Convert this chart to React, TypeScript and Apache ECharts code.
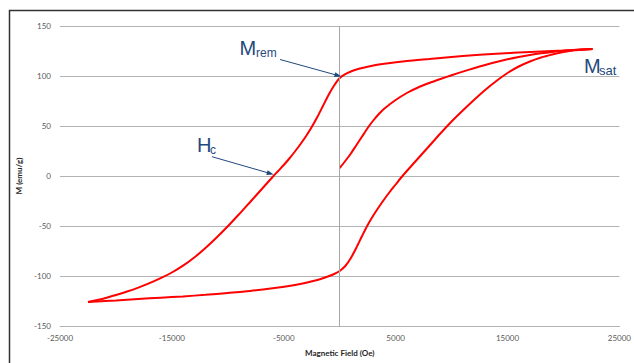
import React, { useEffect, useRef } from "react";
import * as echarts from "echarts";

// Magnetic field H (Oe), magnetisation M (emu/g)
const initialCurve: [number, number][] = [
  [0, 8], [500, 15], [1000, 22.5], [1500, 31], [2000, 39.5], [2500, 48],
  [3000, 55.5], [3500, 62], [4000, 67.5], [5000, 76], [6000, 83], [7000, 88.5],
  [8000, 93], [9000, 97], [10000, 100.8], [11000, 104.4], [12000, 107.8],
  [13000, 111], [14000, 114], [15000, 116.7], [16000, 119], [17000, 121],
  [18000, 122.7], [19000, 124.1], [20000, 125.2], [21000, 126.1], [22600, 127],
];

const descendingBranch: [number, number][] = [
  [22600, 127], [20000, 125.5], [17000, 124], [14000, 122.2], [11000, 120],
  [8000, 117], [6000, 115], [4000, 112.3], [3000, 110.5], [2000, 108],
  [1500, 106.5], [1000, 104.5], [500, 101.8], [0, 98], [-500, 90.5],
  [-1000, 81], [-1500, 70], [-2000, 59], [-2500, 49], [-3000, 40], [-3500, 32],
  [-4000, 24.5], [-4500, 17.5], [-5000, 11], [-5500, 5], [-6000, -1],
  [-7000, -13.5], [-8000, -26], [-9000, -38.3], [-10000, -50.3], [-11000, -61.5],
  [-12000, -72], [-13000, -81.5], [-14000, -89.7], [-15000, -96.5],
  [-16000, -102.2], [-17000, -107.2], [-18000, -111.6], [-19000, -115.5],
  [-20000, -119], [-21000, -122.2], [-22500, -126],
];

const ascendingBranch: [number, number][] = [
  [-22500, -126], [-21000, -125], [-20000, -124.4], [-18000, -123],
  [-16000, -121.7], [-14000, -120.4], [-12000, -118.8], [-10000, -117],
  [-8000, -115], [-6000, -112.3], [-4000, -109], [-3000, -106.8],
  [-2000, -104], [-1500, -102.3], [-1000, -100.3], [-500, -98], [0, -95],
  [500, -90], [1000, -82], [1500, -71.5], [2000, -60], [2500, -49],
  [3000, -39.5], [3500, -31], [4000, -23], [4500, -15.5], [5000, -8.5],
  [5500, -1.5], [6000, 5], [7000, 17.5], [8000, 30], [9000, 42.5],
  [10000, 54.5], [11000, 65.5], [12000, 76], [13000, 86], [14000, 95],
  [15000, 103], [16000, 109.5], [17000, 114.5], [18000, 118.5],
  [19000, 121.5], [20000, 124], [21000, 125.7], [22600, 127],
];

const xRange = { min: -25000, max: 25000, interval: 10000 };
const yRange = { min: -150, max: 150, interval: 50 };

// annotation arrows (data coordinates): [start, tip]
const mremArrow: [number, number][] = [[-5330, 116.5], [-150, 100.5]];
const hcArrow: [number, number][] = [[-11420, 19.3], [-6200, 2.5]];

export default function App() {
  const ref = useRef<HTMLDivElement>(null);

  useEffect(() => {
    if (!ref.current) return;
    const chart = echarts.init(ref.current, null, { renderer: "svg" });
    const red = "#ff0000";
    const navy = "#1f497d";
    const tickFont = { fontFamily: "Lato", fontSize: 8, color: "#595959", formatter: (v: number) => String(v) };
    const arrowPair = (a: [number, number][]) => [
      { coord: a[0], symbol: "none", lineStyle: { color: navy, width: 1, type: "solid" } },
      { coord: a[1], symbol: "triangle", symbolSize: [5, 7], itemStyle: { color: navy }, lineStyle: { color: navy, width: 1, type: "solid" } },
    ];
    const curve = (name: string, data: [number, number][]) => ({
      type: "line",
      name,
      data,
      smooth: 0.25,
      showSymbol: false,
      lineStyle: { color: red, width: 2 },
      z: 3,
    });

    chart.setOption({
      animation: false,
      backgroundColor: "#ffffff",
      grid: { left: 60, right: 11, top: 26, bottom: 37 },
      xAxis: {
        type: "value",
        ...xRange,
        name: "Magnetic Field (Oe)",
        nameLocation: "middle",
        nameGap: 23,
        nameTextStyle: { fontFamily: "Lato", fontSize: 8, fontWeight: "bold", color: "#262626" },
        axisLine: { show: true, onZero: false, lineStyle: { color: "#b3b3b3", width: 1 } },
        axisTick: { show: false },
        splitLine: { show: false },
        axisLabel: { ...tickFont, margin: 8 },
      },
      yAxis: {
        type: "value",
        ...yRange,
        name: "M (emu/g)",
        nameLocation: "middle",
        nameGap: 29,
        nameTextStyle: { fontFamily: "Lato", fontSize: 8, fontWeight: "bold", color: "#262626" },
        axisLine: { show: false, onZero: false },
        axisTick: { show: false },
        splitLine: { show: true, lineStyle: { color: "#b3b3b3", width: 1 } },
        axisLabel: { ...tickFont, margin: 9 },
      },
      series: [
        {
          ...curve("initial", initialCurve),
          markLine: {
            silent: true,
            animation: false,
            label: { show: false },
            symbol: ["none", "none"],
            data: [
              { xAxis: 0, lineStyle: { color: "#a6a6a6", width: 1, type: "solid" } },
              arrowPair(mremArrow),
              arrowPair(hcArrow),
            ],
          },
        },
        curve("descending", descendingBranch),
        curve("ascending", ascendingBranch),
      ],
      graphic: [
        {
          type: "polyline",
          silent: true,
          shape: { points: [[9.5, 363], [9.5, 10.5], [634, 10.5]] },
          style: { stroke: "#333333", lineWidth: 1.5, fill: "none" },
        },
        { type: "text", x: 239.5, y: 48, style: { text: "M", fontFamily: "Liberation Sans", fontSize: 20, fill: navy, verticalAlign: "middle" } },
        { type: "text", x: 256, y: 52.5, style: { text: "rem", fontFamily: "Liberation Sans", fontSize: 12, fill: navy, verticalAlign: "middle" } },
        { type: "text", x: 197, y: 144.5, style: { text: "H", fontFamily: "Liberation Sans", fontSize: 20, fill: navy, verticalAlign: "middle" } },
        { type: "text", x: 210, y: 149.5, style: { text: "c", fontFamily: "Liberation Sans", fontSize: 12, fill: navy, verticalAlign: "middle" } },
        { type: "text", x: 584, y: 66, style: { text: "M", fontFamily: "Liberation Sans", fontSize: 20, fill: navy, verticalAlign: "middle" } },
        { type: "text", x: 599, y: 70, style: { text: "sat", fontFamily: "Liberation Sans", fontSize: 13, fill: navy, verticalAlign: "middle" } },
      ],
    });
    return () => chart.dispose();
  }, []);

  return (
    <div
      ref={ref}
      style={{ position: "fixed", left: 0, top: 0, width: 634, height: 363, background: "#fff" }}
    />
  );
}
